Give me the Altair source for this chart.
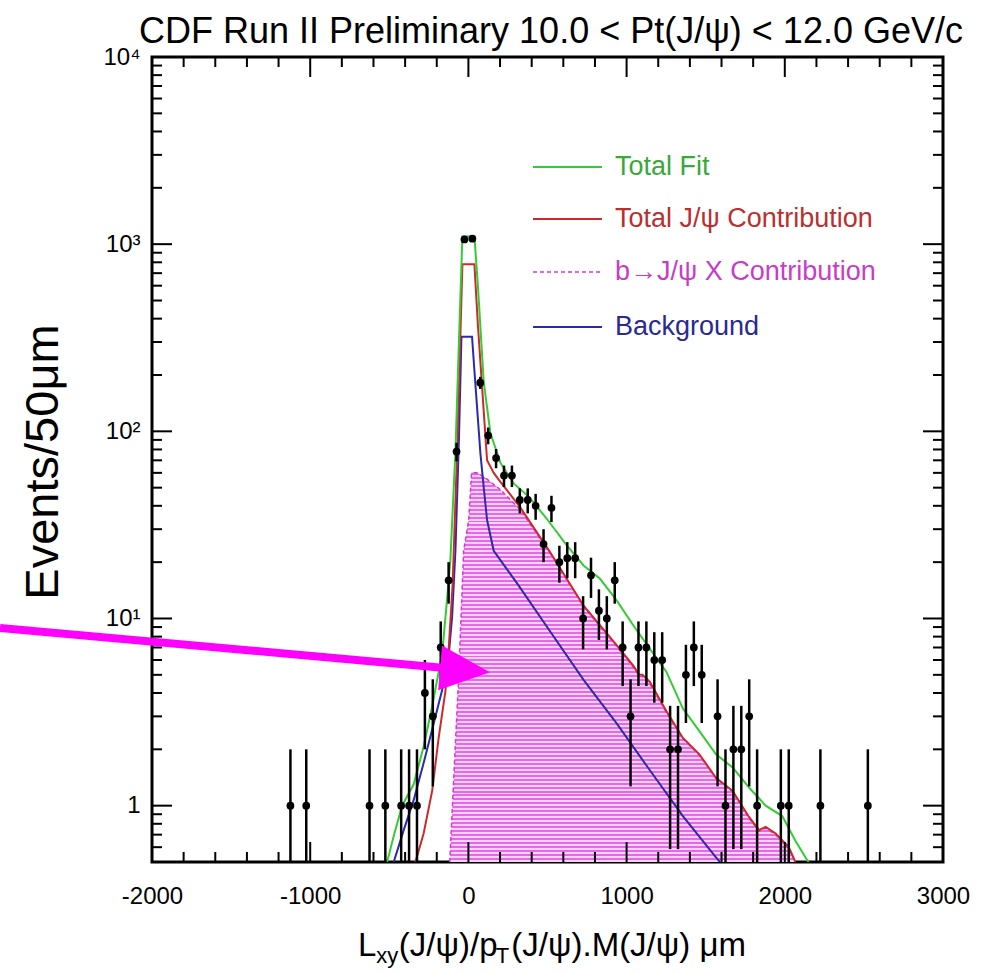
import altair as alt
import pandas as pd
import numpy as np

# ---------------- data ----------------
bin_x = [-1125, -1025, -625, -525, -425, -375, -325, -275, -225, -175, -125, -75, -25, 25,
         75, 125, 175, 225, 275, 325, 375, 425, 475, 525, 575, 625, 675, 725, 775, 825,
         875, 925, 975, 1025, 1075, 1125, 1175, 1225, 1275, 1325, 1375, 1425, 1475, 1575,
         1625, 1675, 1725, 1775, 1825, 1975, 2025, 2225, 2525]
counts = [1, 1, 1, 1, 1, 1, 1, 4, 3, 7, 16, 78, 1060, 1070,
          182, 95, 72, 58, 58, 43, 43, 40, 25, 39, 20, 21, 21, 10, 17, 11,
          10, 16, 7, 3, 7, 7, 6, 6, 2, 2, 5, 7, 5, 3,
          1, 2, 2, 3, 1, 1, 1, 1, 1]

green_x = [-514, -470, -419, -346, -283, -229, -166, -135, -114, -82, -60, -38, 38, 60, 97, 139,
           202, 286, 381, 497, 623, 728, 832, 937, 1042, 1146, 1251, 1356, 1460, 1565, 1670,
           1774, 1879, 1984, 2067, 2130, 2150]
green_y = [0.5, 0.7, 1.0, 1.3, 2.07, 3.4, 6.5, 12.6, 20.5, 78, 300, 1100, 1100, 600, 183, 98,
           68, 52.7, 44.8, 34, 24.5, 19.2, 16.3, 12.5, 9.2, 6.9, 5.2, 3.3, 2.5, 1.88, 1.6,
           1.25, 1.0, 0.88, 0.65, 0.53, 0.5]

red_x = [-335, -283, -229, -188, -145, -125, -100, -71, -38, 38, 60, 90, 118, 160, 200, 330,
         518, 728, 937, 1042, 1080, 1100, 1146, 1251, 1356, 1460, 1565, 1670, 1774, 1837,
         1879, 1942, 2025, 2067]
red_y = [0.5, 0.71, 1.2, 2.3, 4.1, 6.8, 15, 79, 780, 780, 370, 156, 70, 60, 54, 39,
         22.5, 11.7, 7.2, 5.6, 5.0, 5.0, 4.6, 3.2, 2.3, 1.88, 1.41, 1.2, 0.87, 0.74,
         0.77, 0.71, 0.6, 0.5]

blue_x = [-472, -409, -346, -283, -219, -166, -125, -103, -82, -60, -44, 23, 40, 76, 97, 118,
          160, 308, 518, 728, 937, 1146, 1356, 1565, 1590]
blue_y = [0.5, 0.74, 1.07, 1.69, 2.76, 4.15, 6.25, 10.2, 23, 90, 320, 320, 200, 76, 50, 33.6,
          23, 15.4, 8.5, 4.7, 2.75, 1.55, 0.88, 0.53, 0.5]

bjpsi_x = [-118, -61, -30, 2, 20, 55, 100, 160, 200, 330, 518, 728, 937, 1042, 1080, 1100,
           1146, 1251, 1356, 1460, 1565, 1670, 1774, 1837, 1879, 1942, 2025, 2067]
bjpsi_y = [0.5, 5.0, 23, 33.6, 60, 60, 57, 52, 49, 38, 22.3, 11.6, 7.1, 5.5, 4.9, 4.9,
           4.5, 3.15, 2.28, 1.86, 1.4, 1.19, 0.86, 0.73, 0.76, 0.7, 0.59, 0.5]

legend_labels = ["Total Fit", "Total J/\u03c8 Contribution", "b\u2192J/\u03c8 X Contribution", "Background"]

x_major = [-2000, -1000, 0, 1000, 2000, 3000]
x_minor = [v for v in range(-2000, 3001, 200) if v % 1000 != 0]
y_major = [1, 10, 100, 1000]
y_minor = [k * 10.0 ** e for e in range(-1, 4) for k in range(2, 10) if 0.5 < k * 10.0 ** e < 10000]
y_label_values = [1, 10, 100, 1000, 10000]

title_text = "CDF Run II Preliminary 10.0 < Pt(J/\u03c8) < 12.0 GeV/c"
ytitle_text = "Events/50\u03bcm"

# ---------------- geometry / styles ----------------
W, H = 791, 805
LEFT, TOP = 152, 57
FONT = "Liberation Sans"
C_GREEN = "#33cc33"
C_RED = "#cc2a2a"
C_MAG = "#dd33dd"
C_BLUE = "#2a2aaa"
Y_MIN = 0.5

xs = alt.Scale(domain=[-2000, 3000], nice=False, zero=False)
ys = alt.Scale(type="log", domain=[Y_MIN, 10000], nice=False)

xaxis = alt.Axis(values=x_major, title="", grid=False, ticks=False, tickSize=0,
                 domain=False, labelFont=FONT, labelFontSize=24,
                 labelColor="black", labelPadding=22, labelFlush=False,
                 labelOverlap=False, labelExpr="'' + datum.value")
yaxis = alt.Axis(values=y_label_values, title="", grid=False,
                 ticks=False, tickSize=0, domain=False, labelFont=FONT,
                 labelFontSize=24, labelColor="black", labelPadding=12,
                 labelFlush=False, labelOverlap=False,
                 labelExpr="datum.value==1?'1':datum.value==10?'10\u00b9':datum.value==100?'10\u00b2':datum.value==1000?'10\u00b3':'10\u2074'")

def X(f):
    return alt.X(f, scale=xs, axis=xaxis)

def Y(f):
    return alt.Y(f, scale=ys, axis=yaxis)

pts = pd.DataFrame({"x": bin_x, "y": counts})
pts["lo"] = np.maximum(pts["y"] - np.sqrt(pts["y"]), 0.3)
pts["hi"] = pts["y"] + np.sqrt(pts["y"])

def curve(xv, yv):
    return pd.DataFrame({"x": xv, "y": yv})

layers = []

# b->J/psi X area: solid pink base + horizontal stripes via gradient
bdf = curve(bjpsi_x, bjpsi_y)
bdf["base"] = Y_MIN
layers.append(alt.Chart(bdf).mark_area(color="#f3b0f3", opacity=1, clip=True).encode(
    x=X("x:Q"), y=Y("y:Q"), y2="base:Q"))

n_str = 98
stops = []
for i in range(n_str):
    a = i / n_str
    b = (i + 0.5) / n_str
    c = (i + 1) / n_str
    stops += [alt.GradientStop(offset=a, color="#e866e8"), alt.GradientStop(offset=b, color="#e866e8"),
              alt.GradientStop(offset=b, color="#f8d4f8"), alt.GradientStop(offset=c, color="#f8d4f8")]
grad = alt.Gradient(gradient="linear", stops=stops, x1=0, x2=0, y1=0, y2=1)
layers.append(alt.Chart(bdf).mark_area(fill=grad, opacity=1, clip=True).encode(
    x=X("x:Q"), y=Y("y:Q"), y2="base:Q"))

def line_layer(xv, yv, color, dash=None, width=2):
    kw = dict(color=color, strokeWidth=width, clip=True)
    if dash:
        kw["strokeDash"] = dash
    return alt.Chart(curve(xv, yv)).mark_line(**kw).encode(
        x=X("x:Q"),
        y=Y("y:Q"),
        order="x:Q",
    )

layers.append(line_layer(bjpsi_x, bjpsi_y, C_MAG, dash=[4, 3], width=1.5))
layers.append(line_layer(blue_x, blue_y, C_BLUE))
layers.append(line_layer(red_x, red_y, C_RED))
layers.append(line_layer(green_x, green_y, C_GREEN))

# error bars and points
err = alt.Chart(pts).mark_rule(color="black", strokeWidth=2.5, clip=True).encode(
    x=X("x:Q"),
    y=Y("lo:Q"),
    y2="hi:Q",
)
dots = alt.Chart(pts).mark_circle(color="black", size=60, opacity=1, clip=True).encode(
    x=X("x:Q"),
    y=Y("y:Q"),
)
layers += [err, dots]

# inward ticks on four sides
def xticks(vals, length):
    df = pd.DataFrame({"x": vals})
    bot = alt.Chart(df).mark_rule(color="black", strokeWidth=2).encode(
        x=X("x:Q"), y=alt.value(H), y2=alt.value(H - length))
    top = alt.Chart(df).mark_rule(color="black", strokeWidth=2).encode(
        x=X("x:Q"), y=alt.value(0), y2=alt.value(length))
    return [bot, top]

def yticks(vals, length):
    df = pd.DataFrame({"y": vals})
    lft = alt.Chart(df).mark_rule(color="black", strokeWidth=2).encode(
        y=Y("y:Q"), x=alt.value(0), x2=alt.value(length))
    rgt = alt.Chart(df).mark_rule(color="black", strokeWidth=2).encode(
        y=Y("y:Q"), x=alt.value(W), x2=alt.value(W - length))
    return [lft, rgt]

layers += xticks(x_major, 20) + xticks(x_minor, 10) + yticks(y_major, 20) + yticks(y_minor, 10)

# legend
leg_colors = [C_GREEN, C_RED, C_MAG, C_BLUE]
leg_text_colors = ["#3aa83a", "#b83030", "#c83cc8", "#2a2a90"]
leg_rows = [167, 219, 272, 327]
for lab, col, tcol, ry in zip(legend_labels, leg_colors, leg_text_colors, leg_rows):
    d = pd.DataFrame({"t": [lab]})
    kw = dict(color=col, strokeWidth=2)
    if "X Contribution" in lab:
        kw["strokeDash"] = [4, 3]
        kw["strokeWidth"] = 1.5
    layers.append(alt.Chart(d).mark_rule(**kw).encode(
        x=alt.value(533 - LEFT), x2=alt.value(602 - LEFT), y=alt.value(ry - TOP)))
    layers.append(alt.Chart(d).mark_text(align="left", baseline="middle", font=FONT, fontSize=27,
                                         color=tcol).encode(
        text="t:N", x=alt.value(615 - LEFT), y=alt.value(ry - TOP)))

# title
layers.append(alt.Chart(pd.DataFrame({"t": [title_text]})).mark_text(
    align="center", baseline="alphabetic", font=FONT, fontSize=36, color="black").encode(
    text="t:N", x=alt.value(551 - LEFT), y=alt.value(43 - TOP)))

# y title
layers.append(alt.Chart(pd.DataFrame({"t": [ytitle_text]})).mark_text(
    align="center", baseline="alphabetic", font=FONT, fontSize=47, color="black", angle=270).encode(
    text="t:N", x=alt.value(58 - LEFT), y=alt.value(462 - TOP)))

# x title with subscripts
xt_pieces = [("L", 33, 0), ("xy", 22, 7), ("(J/\u03c8)/p", 33, 0), ("T", 22, 7), ("(J/\u03c8).M(J/\u03c8)  \u03bcm", 33, 0)]
xt_widths = [18.3, 22.5, 97.0, 15.5, 242.0]
x0 = 358
for (txt, fs, dy), w in zip(xt_pieces, xt_widths):
    layers.append(alt.Chart(pd.DataFrame({"t": [txt]})).mark_text(
        align="left", baseline="alphabetic", font=FONT, fontSize=fs, color="black").encode(
        text="t:N", x=alt.value(x0 - LEFT), y=alt.value(956 + dy - TOP)))
    x0 += w

# magenta annotation arrow
arrow_df = pd.DataFrame({"t": ["a"]})
layers.append(alt.Chart(arrow_df).mark_rule(color="#ff00ff", strokeWidth=8).encode(
    x=alt.value(0 - LEFT), x2=alt.value(445 - LEFT), y=alt.value(628 - TOP), y2=alt.value(668 - TOP)))
layers.append(alt.Chart(arrow_df).mark_point(shape="M-1,-0.9L1,0L-1,0.9Z", filled=True, fill="#ff00ff",
                                             stroke="#ff00ff", strokeWidth=0, opacity=1, size=2500,
                                             angle=5).encode(
    x=alt.value(465 - LEFT), y=alt.value(670 - TOP)))

chart = alt.layer(*layers).properties(
    width=W, height=H, background="white",
    padding={"left": LEFT, "top": TOP, "right": 994 - LEFT - W, "bottom": 973 - TOP - H},
    autosize=alt.AutoSizeParams(type="none"),
).configure_view(stroke="black", strokeWidth=3)

chart.save("out.html", embed_options={"renderer": "svg", "actions": False})
